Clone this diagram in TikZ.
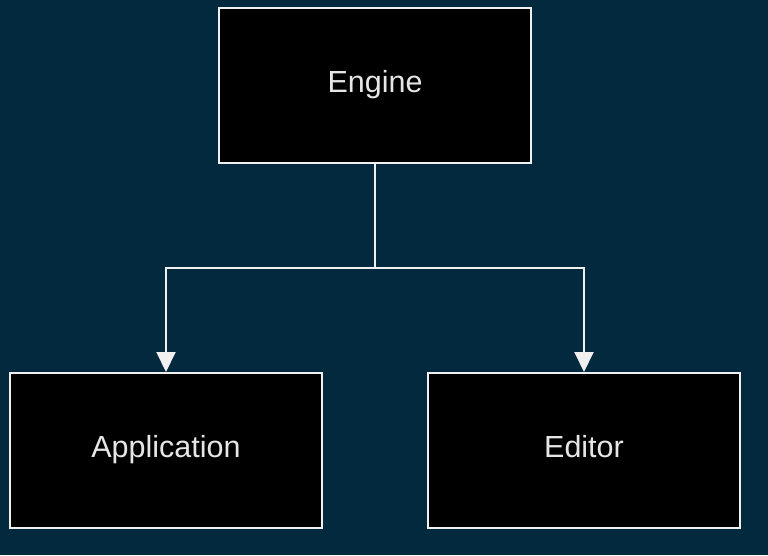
\documentclass[tikz,border=0pt]{standalone}
\usepackage{fontspec}
\setmainfont{Liberation Sans}
\usetikzlibrary{arrows.meta}
\definecolor{bgc}{RGB}{3,41,62}
\definecolor{linec}{RGB}{240,240,240}
\definecolor{textc}{RGB}{230,230,230}
\begin{document}
\begin{tikzpicture}[x=1pt,y=-1pt,
  box/.style={draw=linec,line width=2pt,fill=black,minimum width=312pt,minimum height=155pt,inner sep=0pt,
    font=\fontsize{30.5}{34}\selectfont,text=textc,text height=1.5em,text depth=0.1em},
  conn/.style={draw=linec,line width=2pt,-{Triangle[length=20pt,width=19pt]}}]
\fill[bgc] (0,0) rectangle (768,555);
\useasboundingbox (0,0) rectangle (768,555);
\node[box] (engine) at (375,85) {Engine};
\node[box] (app) at (166,450.5) {Application};
\node[box] (editor) at (584,450.5) {Editor};
\coordinate (split) at (375,268);
\draw[conn] (engine.south) -- (split) -| (app.north);
\draw[conn] (split) -| (editor.north);
\end{tikzpicture}
\end{document}
